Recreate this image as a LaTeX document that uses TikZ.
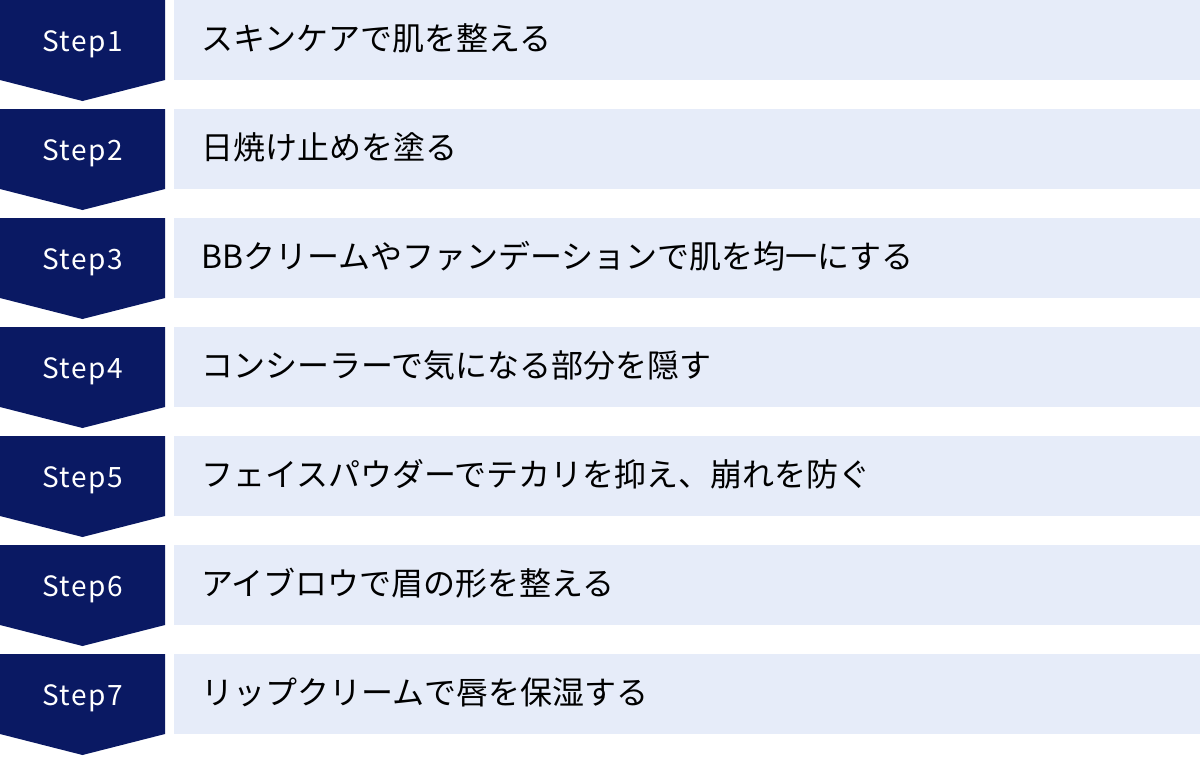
\documentclass[tikz,border=0pt]{standalone}
\usepackage{fontspec}
\setmainfont{Noto Sans CJK JP}
\newfontfamily\tagfont[LetterSpace=5]{Noto Sans CJK JP}
\definecolor{stepnavy}{RGB}{10,25,99}
\definecolor{barblue}{RGB}{230,236,249}
\tikzset{
  steptag/.style={anchor=base, inner sep=0pt, text=white, font=\tagfont\fontsize{28}{28}\selectfont},
  stepdesc/.style={anchor=base west, inner sep=0pt, font=\fontsize{32}{32}\selectfont},
}

\begin{document}
\begin{tikzpicture}[x=1pt,y=-1pt]
\useasboundingbox (0,0) rectangle (1200,756);
\foreach \i/\desc in {1/スキンケアで肌を整える,
  2/日焼け止めを塗る,
  3/BBクリームやファンデーションで肌を均一にする,
  4/コンシーラーで気になる部分を隠す,
  5/フェイスパウダーでテカリを抑え、崩れを防ぐ,
  6/アイブロウで眉の形を整える,
  7/リップクリームで唇を保湿する} {
  \pgfmathsetmacro{\t}{109*(\i-1)}
  % chevron and bar of one step
  \fill[stepnavy] (0,\t) -- ++(165,0) -- ++(0,80) -- ++(-82.5,21) -- ++(-82.5,-21) -- cycle;
  \fill[barblue] (174,\t) rectangle ++(1026,80);
  \node[steptag] (tag\i) at (82.5,\t+51.5) {Step\i};
  \node[stepdesc] (desc\i) at (201,\t+50.5) {\desc};
}
\end{tikzpicture}
\end{document}
